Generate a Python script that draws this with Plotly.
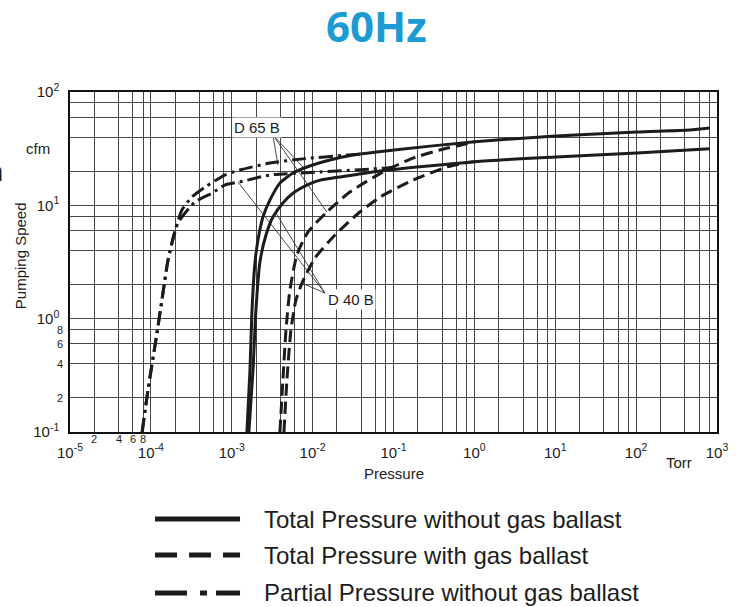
import math
import plotly.graph_objects as go

# ---------------- data ----------------
# D 65 B, total pressure without gas ballast (solid, upper)
p_total_65 = [1.54e-3, 1.68e-3, 1.78e-3, 1.94e-3, 2.11e-3, 2.43e-3, 2.96e-3, 3.94e-3,
              5.71e-3, 8.51e-3, 1.64e-2, 3.15e-2, 0.101, 1.01, 10.2, 102, 461, 815]
s_total_65 = [0.1, 0.352, 1.19, 3.16, 4.94, 7.89, 11.1, 15.7,
              19.3, 21.8, 25.1, 27.8, 30.8, 36.4, 40.9, 44.4, 46.2, 48.1]

# D 40 B, total pressure without gas ballast (solid, lower)
p_total_40 = [1.63e-3, 1.83e-3, 1.99e-3, 2.23e-3, 2.65e-3, 3.23e-3, 4.29e-3, 5.71e-3,
              8.51e-3, 1.23e-2, 3.15e-2, 6.79e-2, 1.01, 10.2, 102, 815]
s_total_40 = [0.1, 0.352, 1.19, 3.16, 5.47, 7.89, 10.5, 12.8,
              15.1, 16.7, 18.5, 20.1, 24.3, 26.7, 29.0, 31.6]

# D 65 B, total pressure with gas ballast (dashed, upper)
p_gas_65 = [3.94e-3, 4.29e-3, 4.68e-3, 5.24e-3, 6.39e-3, 8.75e-3, 1.50e-2, 2.89e-2,
            7.39e-2, 0.174, 0.375, 0.88, 1.05]
s_gas_65 = [0.1, 0.287, 0.79, 1.79, 3.64, 5.81, 8.73, 13.1,
            19.7, 26.1, 30.8, 35.5, 36.6]

# D 40 B, total pressure with gas ballast (dashed, lower)
p_gas_40 = [4.42e-3, 4.81e-3, 5.39e-3, 6.22e-3, 7.38e-3, 1.07e-2, 1.89e-2, 3.84e-2,
            6.79e-2, 0.174, 0.457, 0.76, 1.01]
s_gas_40 = [0.1, 0.287, 0.79, 1.46, 2.06, 3.43, 5.47, 8.73,
            11.8, 16.7, 21.8, 23.6, 24.3]

# D 65 B, partial pressure without gas ballast (dash-dot, upper)
p_part_65 = [7.8e-5, 9.2e-5, 1.19e-4, 1.41e-4, 1.63e-4, 2.0e-4, 2.42e-4, 3.2e-4,
             4.7e-4, 8.2e-4, 1.26e-3, 2.96e-3, 7.6e-3, 2.65e-2, 3.8e-2]
s_part_65 = [0.1, 0.234, 0.746, 1.68, 3.29, 6.05, 9.1, 11.8,
             14.5, 18.5, 20.5, 23.6, 25.7, 27.8, 28.3]

# D 40 B, partial pressure without gas ballast (dash-dot, lower)
p_part_40 = [7.8e-5, 9.2e-5, 1.19e-4, 1.41e-4, 1.63e-4, 2.16e-4, 3.5e-4, 5.69e-4,
             8.2e-4, 1.26e-3, 2.96e-3, 1.23e-2, 8.3e-2, 0.12]
s_part_40 = [0.1, 0.234, 0.746, 1.68, 3.29, 6.98, 10.7, 12.8,
             15.1, 16.1, 18.5, 19.7, 21.4, 22.2]

# leader lines from the model labels to the curves
leader_65_from = (3.23e-3, 41.7)
leader_65_to = [(3.72e-3, 22.7), (8.0e-3, 20.9), (1.5e-2, 8.73)]
leader_40_from = (1.42e-2, 1.68)
leader_40_to = [(1.19e-3, 16.1), (3.52e-3, 8.55), (7.38e-3, 2.06)]

x_major = [1e-5, 1e-4, 1e-3, 1e-2, 1e-1, 1e0, 1e1, 1e2, 1e3]
x_major_text = ["10<sup>-5</sup>", "10<sup>-4</sup>", "10<sup>-3</sup>", "10<sup>-2</sup>",
                "10<sup>-1</sup>", "10<sup>0</sup>", "10<sup>1</sup>", "10<sup>2</sup>", "10<sup>3</sup>"]
y_major = [1e-1, 1e0, 1e1, 1e2]
y_major_text = ["10<sup>-1</sup>", "10<sup>0</sup>", "10<sup>1</sup>", "10<sup>2</sup>"]
minor_mult = [2, 4, 6, 8]
x_minor_labels = ["2", "4", "6", "8"]
y_minor_labels = ["2", "4", "6", "8"]

legend_labels = ["Total Pressure without gas ballast",
                 "Total Pressure with gas ballast",
                 "Partial Pressure without gas ballast"]

# ---------------- figure ----------------
INK = "#1c1c1c"
GRID = "#474747"
FONT = "Liberation Sans, Arial, sans-serif"
DASH = "12px,6px"
DASHDOT = "14px,5px,3px,5px"

fig = go.Figure()

def curve(x, y, dash):
    fig.add_trace(go.Scatter(x=x, y=y, mode="lines",
                             line=dict(color=INK, width=3, dash=dash, shape="spline", smoothing=0.6),
                             showlegend=False, hoverinfo="skip"))

for (fx, fy), targets in ((leader_65_from, leader_65_to), (leader_40_from, leader_40_to)):
    for tx, ty in targets:
        fig.add_trace(go.Scatter(x=[fx, tx], y=[fy, ty], mode="lines",
                                 line=dict(color="#333333", width=0.9),
                                 showlegend=False, hoverinfo="skip"))

curve(p_part_65, s_part_65, DASHDOT)
curve(p_part_40, s_part_40, DASHDOT)
curve(p_gas_65, s_gas_65, DASH)
curve(p_gas_40, s_gas_40, DASH)
curve(p_total_65, s_total_65, "solid")
curve(p_total_40, s_total_40, "solid")

x_minor_vals = [m * 10 ** d for d in range(-5, 3) for m in minor_mult]
y_minor_vals = [m * 10 ** d for d in range(-1, 2) for m in minor_mult]

fig.update_xaxes(type="log", range=[-5, 3], tickmode="array", tickvals=x_major,
                 ticktext=x_major_text,
                 showgrid=True, gridcolor=GRID, gridwidth=1,
                 minor=dict(tickmode="array", tickvals=x_minor_vals, showgrid=True,
                            gridcolor=GRID, gridwidth=1, ticks=""),
                 showline=True, linecolor="#111111", linewidth=1.5, mirror=True,
                 ticks="", zeroline=False, ticklabelstandoff=6,
                 tickfont=dict(family=FONT, size=15, color=INK))
fig.update_yaxes(type="log", range=[-1, 2], tickmode="array", tickvals=y_major,
                 ticktext=y_major_text,
                 showgrid=True, gridcolor=GRID, gridwidth=1,
                 minor=dict(tickmode="array", tickvals=y_minor_vals, showgrid=True,
                            gridcolor=GRID, gridwidth=1, ticks=""),
                 showline=True, linecolor="#111111", linewidth=1.5, mirror=True,
                 ticks="", zeroline=False, ticklabelstandoff=6,
                 tickfont=dict(family=FONT, size=15, color=INK))

ann = []
for m, t in zip(minor_mult, x_minor_labels):
    ann.append(dict(x=math.log10(m * 1e-5), y=-0.02, xref="x", yref="paper", text=t,
                    showarrow=False, yanchor="middle", xanchor="center",
                    font=dict(family=FONT, size=11, color=INK)))
for m, t in zip(minor_mult, y_minor_labels):
    ann.append(dict(x=-0.008, y=math.log10(m * 1e-1), xref="paper", yref="y", text=t,
                    showarrow=False, yanchor="middle", xanchor="right",
                    font=dict(family=FONT, size=11, color=INK)))

def txt(x, y, text, size=15, xref="paper", yref="paper", xanchor="center", **kw):
    d = dict(x=x, y=y, xref=xref, yref=yref, text=text, showarrow=False,
             xanchor=xanchor, yanchor="middle",
             font=dict(family=FONT, size=size, color=INK))
    d.update(kw)
    return d

ann += [
    txt(math.log10(2.05e-3), math.log10(49.1), "D 65 B", xref="x", yref="y",
        bgcolor="white", borderpad=1),
    txt(math.log10(2.97e-2), math.log10(1.49), "D 40 B", xref="x", yref="y",
        bgcolor="white", borderpad=1),
    dict(x=0.473, y=1.195, xref="paper", yref="paper", text="<b>60Hz</b>", showarrow=False,
         xanchor="center", yanchor="middle",
         font=dict(family="Open Sans, sans-serif", size=42, color="#1b9bd1")),
    txt(-0.0495, 0.835, "cfm"),
    txt(-0.0773, 0.52, "Pumping Speed", textangle=-90),
    txt(0.5008, -0.1206, "Pressure"),
    txt(0.941, -0.091, "Torr"),
    txt(-0.1005, 0.765, "<b>n</b>", size=28, xanchor="right"),
]

legend_y = [-0.256, -0.362, -0.4735]
legend_dash = ["solid", "22px,12px", "32px,13px,7px,9px"]
shapes = []
for ly, lab, dsh in zip(legend_y, legend_labels, legend_dash):
    shapes.append(dict(type="line", xref="paper", yref="paper", x0=0.1314, x1=0.2628,
                       y0=ly, y1=ly, line=dict(color=INK, width=5, dash=dsh)))
    ann.append(txt(0.2968, ly, lab, size=24, xanchor="left"))

fig.update_layout(width=746, height=607, margin=dict(l=70, r=29, t=92, b=175),
                  paper_bgcolor="white", plot_bgcolor="white",
                  annotations=ann, shapes=shapes, showlegend=False)

fig.write_html("out.html", config={"displayModeBar": False},
               post_script="document.body.style.margin='0px';")
